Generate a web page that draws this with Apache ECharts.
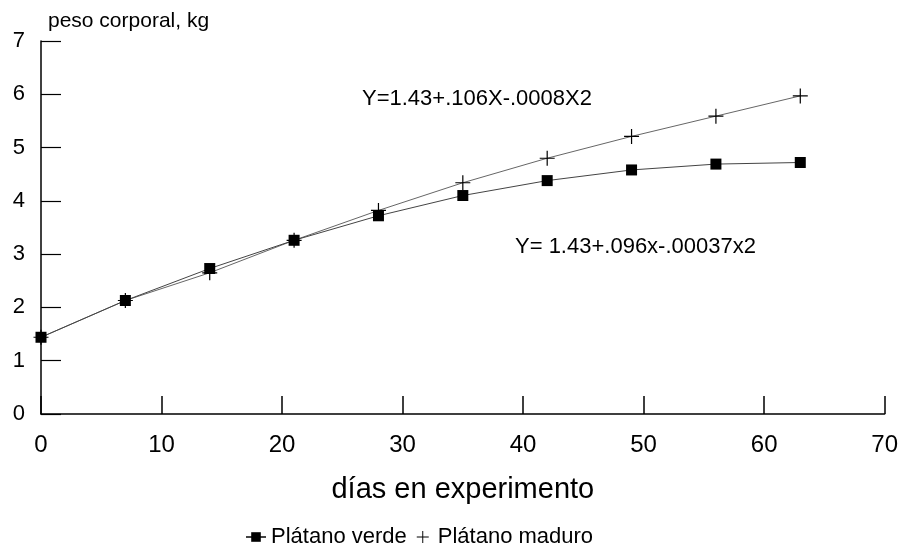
<!DOCTYPE html>
<html>
<head>
<meta charset="utf-8">
<script src="https://cdn.jsdelivr.net/npm/echarts@6/dist/echarts.min.js"></script>
<style>html,body{margin:0;padding:0;background:#fff}#c{width:901px;height:552px}</style>
</head>
<body>
<div id="c"></div>
<script>
var days = [0, 7, 14, 21, 28, 35, 42, 49, 56, 63];
var verde = [1.44, 2.13, 2.73, 3.26, 3.72, 4.10, 4.38, 4.58, 4.69, 4.72];
var maduro = [1.44, 2.13, 2.65, 3.26, 3.82, 4.34, 4.80, 5.21, 5.59, 5.97];
var xTicks = [0, 10, 20, 30, 40, 50, 60, 70];
var yTicks = [0, 1, 2, 3, 4, 5, 6, 7];
var eqMaduro = 'Y=1.43+.106X-.0008X2';
var eqVerde = 'Y= 1.43+.096x-.00037x2';

function pairs(xs, ys){ return xs.map(function(x,i){ return [x, ys[i]]; }); }
var FONT = '"Liberation Sans", Arial, sans-serif';
var plusPath = 'path://M4.6,0H5.4V4.6H10V5.4H5.4V10H4.6V5.4H0V4.6H4.6Z';

var chart = echarts.init(document.getElementById('c'));
chart.setOption({
  animation: false,
  backgroundColor: '#fff',
  textStyle: { fontFamily: FONT, color: '#000' },
  grid: { left: 41, right: 16, top: 41, bottom: 138 },
  xAxis: {
    type: 'value', min: xTicks[0], max: xTicks[xTicks.length-1], interval: 10,
    name: 'días en experimento', nameLocation: 'middle', nameGap: 61,
    nameTextStyle: { fontSize: 29, fontFamily: FONT, color: '#000' },
    axisLine: { lineStyle: { color: '#000', width: 1.5 } },
    axisTick: { inside: true, length: 18, lineStyle: { color: '#000', width: 1.5 } },
    axisLabel: { fontSize: 24, margin: 19, color: '#000', fontFamily: FONT },
    splitLine: { show: false }
  },
  yAxis: {
    type: 'value', min: yTicks[0], max: yTicks[yTicks.length-1], interval: 1,
    name: 'peso corporal, kg', nameLocation: 'end', nameGap: 9,
    nameTextStyle: { fontSize: 21, fontFamily: FONT, color: '#000', align: 'left', padding: [0,0,0,7] },
    axisLine: { lineStyle: { color: '#000', width: 1.5 } },
    axisTick: { inside: true, length: 20, lineStyle: { color: '#000', width: 1.2 } },
    axisLabel: { fontSize: 22, margin: 16, color: '#000', fontFamily: FONT },
    splitLine: { show: false }
  },
  legend: {
    top: 521, left: 240, itemGap: 10, itemWidth: 20, itemHeight: 12,
    textStyle: { fontSize: 22, fontFamily: FONT, color: '#000' },
    data: [
      { name: 'Plátano verde', itemStyle: { color: '#000' } },
      { name: 'Plátano maduro', icon: plusPath, itemStyle: { color: '#000' } }
    ]
  },
  series: [
    {
      name: 'Plátano verde', type: 'line', data: pairs(days, verde),
      symbol: 'rect', symbolSize: 11,
      lineStyle: { color: '#444', width: 1 },
      itemStyle: { color: '#000' }, z: 3
    },
    {
      name: 'Plátano maduro', type: 'line', data: pairs(days, maduro),
      symbol: plusPath, symbolSize: 15,
      lineStyle: { color: '#666', width: 1 },
      itemStyle: { color: '#000' }, z: 2
    }
  ],
  graphic: [
    { type: 'text', left: 362, top: 88, style: { text: eqMaduro, font: '22px ' + FONT, fill: '#000' } },
    { type: 'text', left: 515, top: 236, style: { text: eqVerde, font: '22px ' + FONT, fill: '#000' } }
  ]
});
</script>
</body>
</html>
